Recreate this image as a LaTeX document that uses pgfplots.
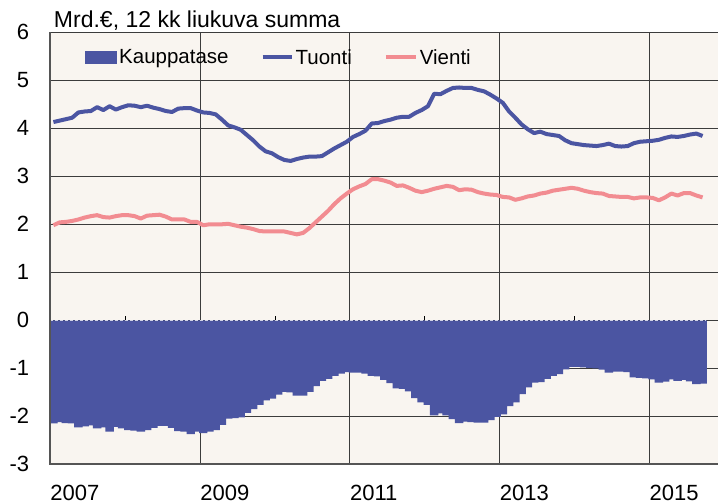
\documentclass[border=0pt]{standalone}
\usepackage{fontspec}
\setmainfont{Liberation Sans}
\usepackage{pgfplots}
\pgfplotsset{compat=1.18}
\usepackage{pgfplotstable}
\definecolor{bg}{RGB}{249,245,240}
\definecolor{tuonti}{RGB}{75,85,162}
\definecolor{vienti}{RGB}{242,140,145}
\definecolor{gridc}{RGB}{60,60,60}
\definecolor{axc}{RGB}{85,85,85}
\pgfplotstableread{
m t v b
0 4.13 1.98 -2.15
1 4.16 2.04 -2.12
2 4.19 2.05 -2.14
3 4.22 2.07 -2.15
4 4.33 2.10 -2.23
5 4.35 2.14 -2.21
6 4.36 2.17 -2.19
7 4.44 2.19 -2.25
8 4.38 2.15 -2.23
9 4.46 2.14 -2.32
10 4.39 2.17 -2.22
11 4.44 2.19 -2.25
12 4.48 2.19 -2.29
13 4.47 2.17 -2.30
14 4.44 2.12 -2.32
15 4.47 2.18 -2.29
16 4.43 2.19 -2.24
17 4.40 2.20 -2.20
18 4.36 2.16 -2.20
19 4.34 2.10 -2.24
20 4.41 2.10 -2.31
21 4.42 2.10 -2.32
22 4.42 2.05 -2.37
23 4.37 2.05 -2.32
24 4.33 1.98 -2.35
25 4.32 2.00 -2.32
26 4.29 2.00 -2.29
27 4.18 2.00 -2.18
28 4.06 2.01 -2.05
29 4.02 1.98 -2.04
30 3.97 1.95 -2.02
31 3.86 1.93 -1.93
32 3.75 1.90 -1.85
33 3.62 1.86 -1.76
34 3.52 1.85 -1.67
35 3.48 1.85 -1.63
36 3.40 1.85 -1.55
37 3.34 1.85 -1.49
38 3.32 1.82 -1.50
39 3.36 1.79 -1.57
40 3.39 1.82 -1.57
41 3.41 1.92 -1.49
42 3.41 2.04 -1.37
43 3.42 2.16 -1.26
44 3.50 2.28 -1.22
45 3.58 2.42 -1.16
46 3.65 2.54 -1.11
47 3.72 2.64 -1.08
48 3.82 2.73 -1.09
49 3.88 2.79 -1.09
50 3.95 2.84 -1.11
51 4.10 2.94 -1.16
52 4.11 2.94 -1.17
53 4.15 2.91 -1.24
54 4.18 2.87 -1.31
55 4.22 2.80 -1.42
56 4.24 2.81 -1.43
57 4.24 2.76 -1.48
58 4.32 2.70 -1.62
59 4.38 2.67 -1.71
60 4.46 2.70 -1.76
61 4.72 2.74 -1.98
62 4.71 2.77 -1.94
63 4.78 2.80 -1.98
64 4.84 2.78 -2.06
65 4.85 2.71 -2.14
66 4.84 2.73 -2.11
67 4.84 2.72 -2.12
68 4.80 2.67 -2.13
69 4.77 2.64 -2.13
70 4.70 2.62 -2.08
71 4.62 2.61 -2.01
72 4.53 2.57 -1.96
73 4.35 2.56 -1.79
74 4.22 2.51 -1.71
75 4.08 2.54 -1.54
76 3.98 2.58 -1.40
77 3.90 2.60 -1.30
78 3.93 2.64 -1.29
79 3.88 2.66 -1.22
80 3.86 2.70 -1.16
81 3.84 2.72 -1.12
82 3.75 2.74 -1.02
83 3.69 2.76 -0.97
84 3.67 2.74 -0.97
85 3.65 2.70 -0.98
86 3.64 2.67 -0.99
87 3.63 2.65 -1.00
88 3.65 2.64 -1.03
89 3.68 2.59 -1.09
90 3.63 2.58 -1.07
91 3.62 2.57 -1.07
92 3.63 2.57 -1.08
93 3.69 2.54 -1.19
94 3.72 2.56 -1.20
95 3.73 2.56 -1.21
96 3.74 2.55 -1.23
97 3.76 2.50 -1.30
98 3.80 2.56 -1.28
99 3.83 2.64 -1.23
100 3.82 2.60 -1.26
101 3.84 2.65 -1.24
102 3.87 2.65 -1.27
103 3.89 2.60 -1.33
104 3.84 2.56 -1.32
}\data
\begin{document}
\begin{tikzpicture}
\begin{axis}[name=ax, scale only axis, width=667.7pt, height=432pt,
  xmin=-0.5, xmax=106.47, ymin=-3, ymax=6,
  axis background/.style={fill=bg},
  axis line style={draw=none},
  xtick={-0.5,23.5,47.5,71.5,95.5}, xticklabels={2007,2009,2011,2013,2015},
  ytick={-3,-2,-1,0,1,2,3,4,5,6}, yticklabels={-3,-2,-1,0,1,2,3,4,5,6},
  major tick length=0pt,
  xmajorgrids, ymajorgrids, grid style={gridc, line width=1.1pt},
  xticklabel style={anchor=north west, inner sep=0pt, yshift=-21pt, font=\fontsize{22}{26}\selectfont},
  yticklabel style={anchor=east, inner sep=0pt, xshift=-21pt, font=\fontsize{22}{26}\selectfont},
  legend columns=3,
  legend style={draw=none, fill=none, at={(axis description cs:0.052,0.9417)}, anchor=west,
    inner sep=0pt, font=\fontsize{20.5}{24}\selectfont,
    nodes={inner sep=0pt, anchor=west},
    /tikz/every even column/.append style={column sep=32pt},
    /tikz/every odd column/.append style={column sep=2pt}},
]
\addplot[ybar, bar width=1.35, fill=tuonti, draw=none,
  legend image code/.code={\fill[tuonti] (0pt,-6.8pt) rectangle (32pt,6.8pt);}]
  table[x=m, y=b] {\data};
\addlegendentry{Kauppatase}
\addplot[tuonti, line width=4pt, line join=round,
  legend image code/.code={\draw[tuonti, line width=4pt] (0pt,0pt) -- (29pt,0pt);}]
  table[x=m, y=t] {\data};
\addlegendentry{Tuonti}
\addplot[vienti, line width=4pt, line join=round,
  legend image code/.code={\draw[vienti, line width=4pt] (0pt,0pt) -- (30pt,0pt);}]
  table[x=m, y=v] {\data};
\addlegendentry{Vienti}
\draw[white!75!tuonti, line width=0.6pt, dash pattern=on 3pt off 2pt] (axis cs:-0.5,0) -- (axis cs:104.5,0);
\pgfplotsinvokeforeach{11.5,35.5,59.5,83.5}{\draw[black, line width=0.8pt] (axis cs:#1,0) -- ++(0pt,4pt);}
\end{axis}
\draw[axc, line width=2pt] (ax.south west) -- (ax.north west);
\draw[axc, line width=2.4pt] ([xshift=-1pt]ax.south west) -- (ax.south east);
\node[anchor=base west, inner sep=0pt, font=\fontsize{23}{27}\selectfont] at ([xshift=3.5pt, yshift=4.6pt]ax.north west) {Mrd.€, 12 kk liukuva summa};
\pgfresetboundingbox
\path[use as bounding box] ([xshift=-50.3pt, yshift=-39.7pt]ax.south west) rectangle ([yshift=32.3pt]ax.north east);
\end{tikzpicture}
\end{document}
